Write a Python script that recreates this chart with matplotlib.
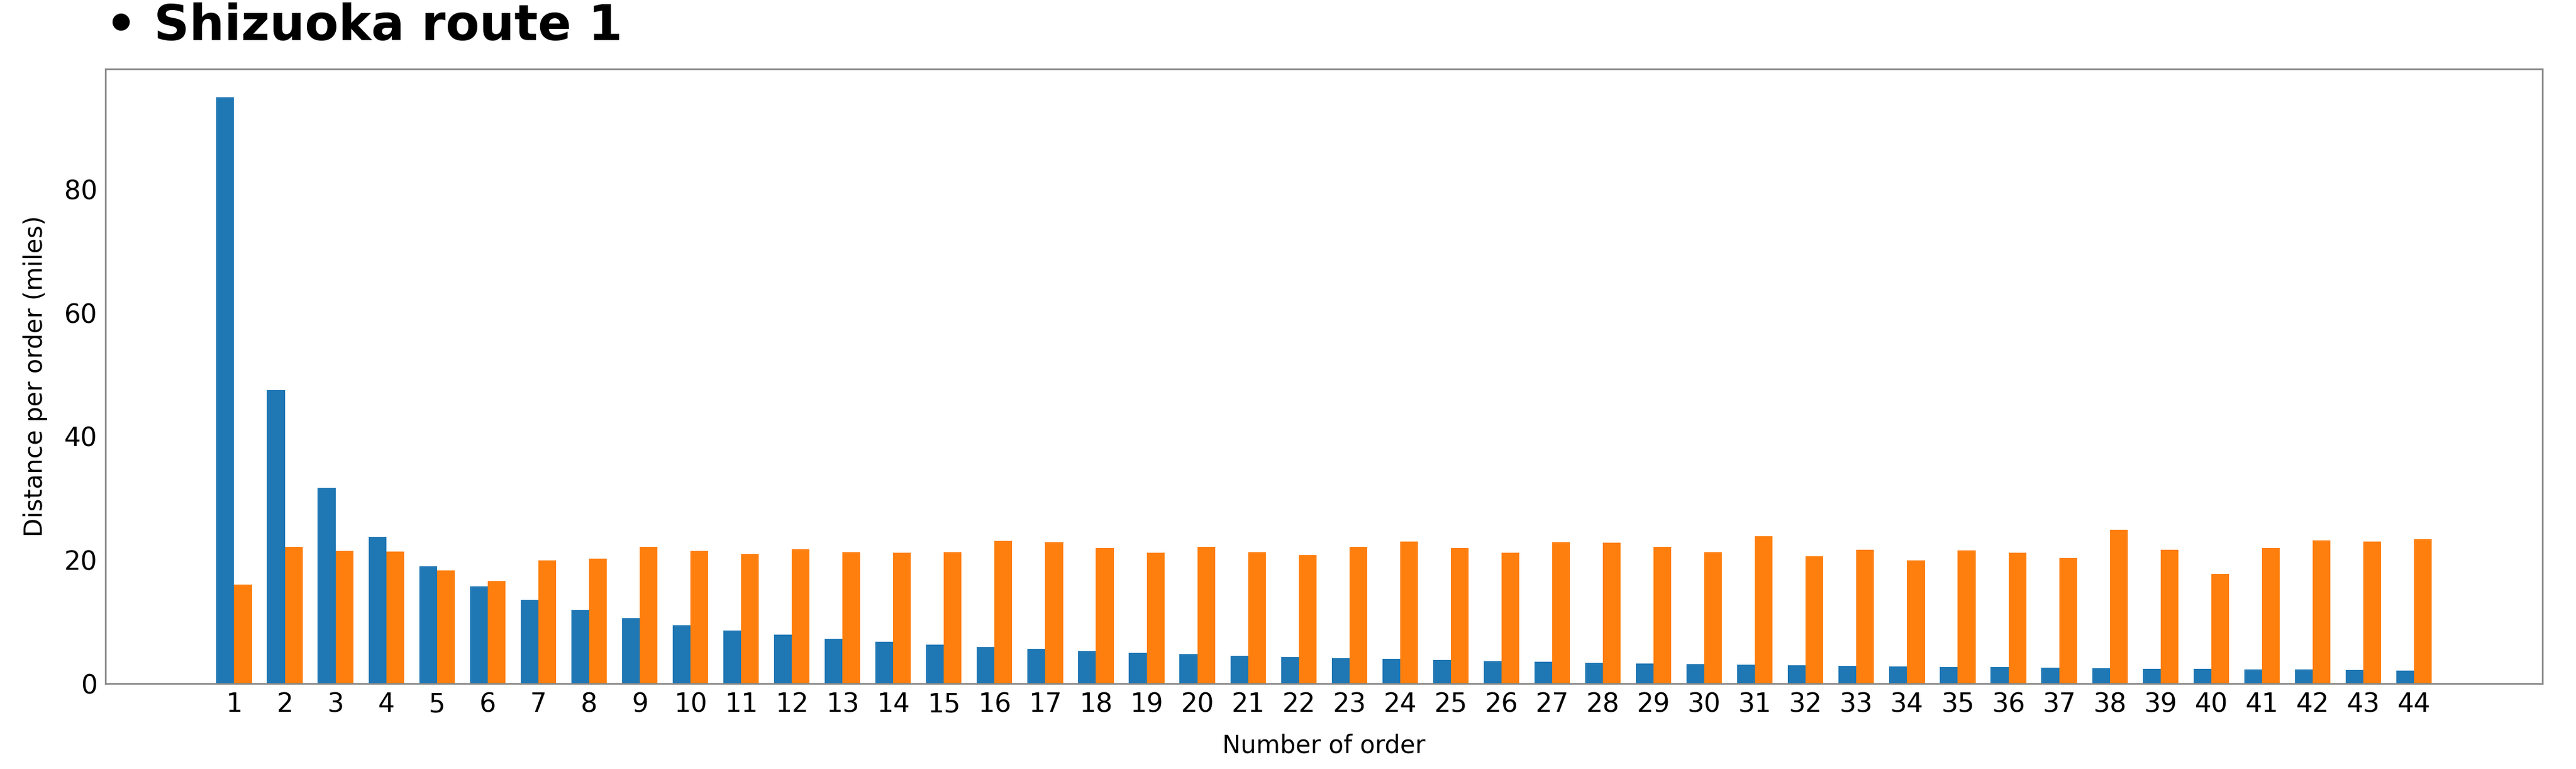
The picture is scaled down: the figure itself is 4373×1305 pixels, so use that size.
import matplotlib
matplotlib.use("Agg")
import matplotlib.pyplot as plt
import numpy as np

orders = list(range(1, 45))
blue = [95, 47.5, 31.7, 23.8, 19, 15.8, 13.6, 11.9, 10.6, 9.5, 8.6, 7.9, 7.3, 6.8, 6.3, 5.9,
        5.6, 5.3, 5.0, 4.75, 4.5, 4.3, 4.1, 4.0, 3.8, 3.65, 3.5, 3.4, 3.3, 3.2, 3.1, 2.97,
        2.88, 2.8, 2.7, 2.64, 2.57, 2.5, 2.44, 2.38, 2.32, 2.26, 2.21, 2.16]
orange = [16, 22.2, 21.5, 21.4, 18.3, 16.6, 20, 20.2, 22.2, 21.5, 21, 21.8, 21.3, 21.2, 21.3,
          23.1, 22.9, 22, 21.2, 22.2, 21.3, 20.8, 22.2, 23, 22, 21.2, 22.9, 22.8, 22.2, 21.3,
          23.9, 20.6, 21.7, 20, 21.6, 21.2, 20.3, 24.9, 21.7, 17.8, 22, 23.2, 23, 23.4]

fig = plt.figure(figsize=(43.73, 13.05), dpi=100)
ax = fig.add_axes([0.041, 0.111, 0.946, 0.799])
x = np.array(orders)
w = 0.35
ax.bar(x - w/2, blue, w, color="#1f77b4")
ax.bar(x + w/2, orange, w, color="#ff7f0e")
ax.set_xticks(x)
ax.set_xticklabels([str(o) for o in orders])
ax.set_yticks([0, 20, 40, 60, 80])
ax.set_ylim(0, 99.5)
ax.tick_params(labelsize=32, length=0, pad=10)
ax.set_xlabel("Number of order", fontsize=30, labelpad=20)
ax.set_ylabel("Distance per order (miles)", fontsize=30, labelpad=20)
for s in ax.spines.values():
    s.set_color("#888888")
    s.set_linewidth(2)
fig.text(0.041, 0.935, "• Shizuoka route 1", fontsize=60, fontweight="bold", ha="left", va="bottom")
fig.savefig("out.png", dpi=100)
